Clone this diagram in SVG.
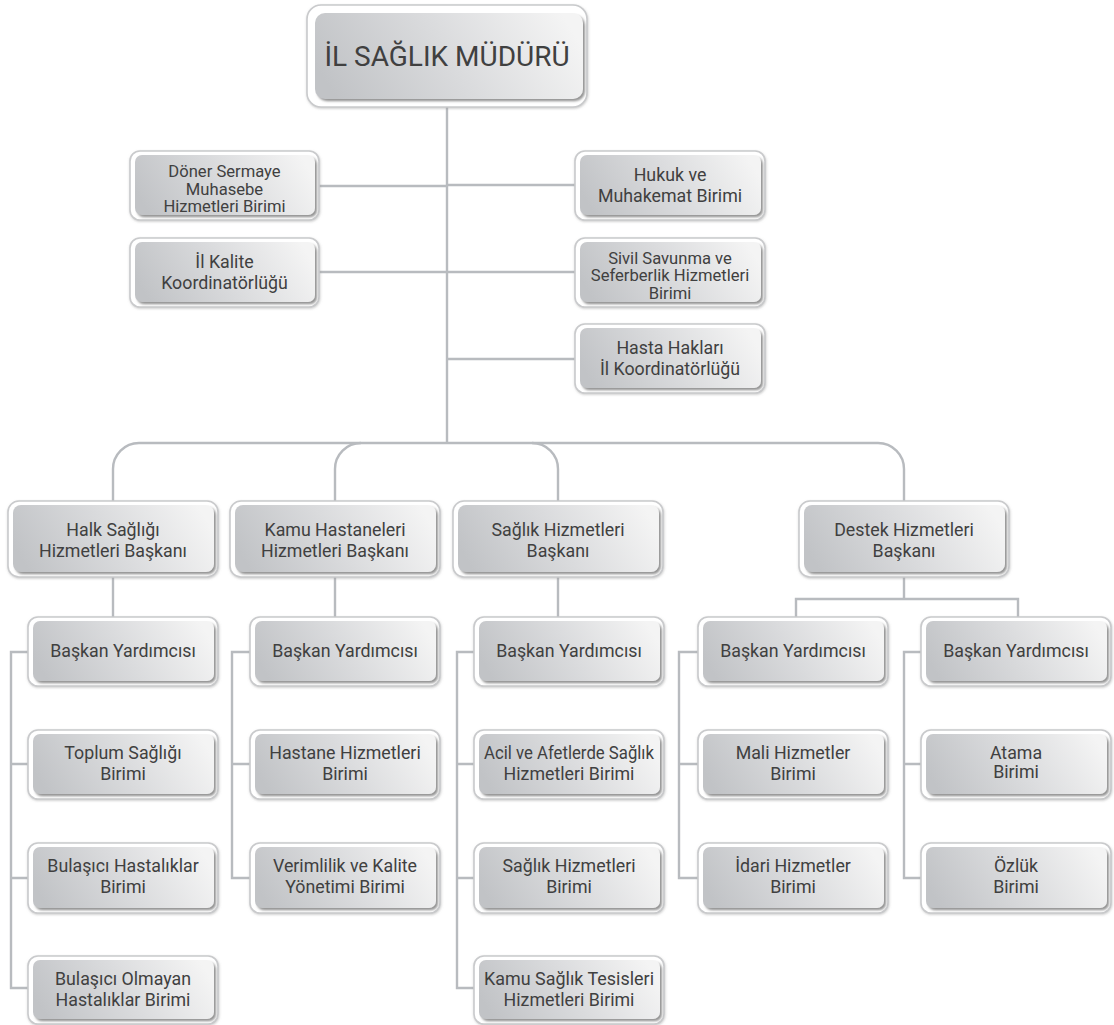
<svg xmlns="http://www.w3.org/2000/svg" width="1114" height="1025" viewBox="0 0 1114 1025">
<defs>
  <linearGradient id="g" x1="0" y1="0.6" x2="1" y2="0.4">
    <stop offset="0" stop-color="#c1c3c6"/>
    <stop offset="0.5" stop-color="#dadbdd"/>
    <stop offset="1" stop-color="#f4f4f4"/>
  </linearGradient>
  <filter id="sh" x="-5%" y="-10%" width="115%" height="130%">
    <feDropShadow dx="2" dy="2.2" stdDeviation="1.1" flood-color="#6f6f6f" flood-opacity="0.75"/>
  </filter>
  <filter id="sh2" x="-5%" y="-10%" width="115%" height="130%">
    <feDropShadow dx="0.5" dy="1" stdDeviation="1" flood-color="#9a9a9a" flood-opacity="0.5"/>
  </filter>
</defs>
<style>
  .o{fill:#ffffff;stroke:#c9cacc;stroke-width:1.6;filter:url(#sh2)}
  .i{fill:url(#g);filter:url(#sh)}
  .t{font-family:Roboto,"Liberation Sans",sans-serif;font-size:17.8px;fill:#404040;text-anchor:middle}
  .t3{font-size:16.6px}
  .tt{font-family:Roboto,"Liberation Sans",sans-serif;font-size:28px;fill:#404040;text-anchor:middle}
  .c{fill:none;stroke:#b8bbbf;stroke-width:2.4}
</style>
<rect width="1114" height="1025" fill="#ffffff"/>

<g id="connectors">
  <path class="c" d="M447,107 V443"/>
  <path class="c" d="M319,186 H447"/>
  <path class="c" d="M319,272 H447"/>
  <path class="c" d="M447,185 H575"/>
  <path class="c" d="M447,272 H575"/>
  <path class="c" d="M447,359 H575"/>
  <path class="c" d="M113,501 V469 A26,26 0 0 1 139,443 H532 A26,26 0 0 1 558,469 V501"/>
  <path class="c" d="M335,501 V469 A26,26 0 0 1 361,443"/>
  <path class="c" d="M532,443 H878 A26,26 0 0 1 904,469 V501"/>
  <path class="c" d="M113,577 V617"/>
  <path class="c" d="M335,577 V617"/>
  <path class="c" d="M558,577 V617"/>
  <path class="c" d="M904,577 V599"/>
  <path class="c" d="M796,617 V599 H1018 V617"/>
  <path class="c" d="M28,652 H11 V988 H28 M11,764 H28 M11,878 H28"/>
  <path class="c" d="M250,652 H232 V878 H250 M232,764 H250"/>
  <path class="c" d="M474,652 H457 V988 H474 M457,764 H474 M457,878 H474"/>
  <path class="c" d="M698,652 H679 V878 H698 M679,764 H698"/>
  <path class="c" d="M921,652 H904 V878 H921 M904,764 H921"/>
</g>

<g id="mudur">
  <rect class="o" x="307" y="5" width="280" height="102" rx="14"/>
  <rect class="i" x="315" y="13" width="268" height="86" rx="10"/>
  <text class="tt" x="447" y="66">İL SAĞLIK MÜDÜRÜ</text>
</g>

<g id="doner">
  <rect class="o" x="130" y="151" width="189" height="69" rx="10"/>
  <rect class="i" x="135" y="155" width="180" height="60" rx="7"/>
  <text class="t t3" x="224.5" y="177"><tspan x="224.5">Döner Sermaye</tspan><tspan x="224.5" y="194.5">Muhasebe</tspan><tspan x="224.5" y="212">Hizmetleri Birimi</tspan></text>
</g>
<g id="kalite">
  <rect class="o" x="130" y="238" width="189" height="69" rx="10"/>
  <rect class="i" x="135" y="242" width="180" height="60" rx="7"/>
  <text class="t" x="224.5" y="268"><tspan x="224.5">İl Kalite</tspan><tspan x="224.5" y="289">Koordinatörlüğü</tspan></text>
</g>
<g id="hukuk">
  <rect class="o" x="575" y="151" width="190" height="69" rx="10"/>
  <rect class="i" x="580" y="155" width="181" height="60" rx="7"/>
  <text class="t" x="670" y="181"><tspan x="670">Hukuk ve</tspan><tspan x="670" y="202">Muhakemat Birimi</tspan></text>
</g>
<g id="sivil">
  <rect class="o" x="575" y="238" width="190" height="69" rx="10"/>
  <rect class="i" x="580" y="242" width="181" height="60" rx="7"/>
  <text class="t t3" x="670" y="263.5"><tspan x="670">Sivil Savunma ve</tspan><tspan x="670" y="281">Seferberlik Hizmetleri</tspan><tspan x="670" y="298.5">Birimi</tspan></text>
</g>
<g id="hasta">
  <rect class="o" x="575" y="324" width="190" height="69" rx="10"/>
  <rect class="i" x="580" y="328" width="181" height="60" rx="7"/>
  <text class="t" x="670" y="354"><tspan x="670">Hasta Hakları</tspan><tspan x="670" y="375">İl Koordinatörlüğü</tspan></text>
</g>

<g id="halk">
  <rect class="o" x="8" y="501" width="210" height="76" rx="11"/>
  <rect class="i" x="13" y="505" width="201" height="67" rx="8"/>
  <text class="t" x="113" y="536"><tspan x="113">Halk Sağlığı</tspan><tspan x="113" y="557">Hizmetleri Başkanı</tspan></text>
</g>
<g id="kamu">
  <rect class="o" x="230" y="501" width="210" height="76" rx="11"/>
  <rect class="i" x="235" y="505" width="201" height="67" rx="8"/>
  <text class="t" x="335" y="536"><tspan x="335">Kamu Hastaneleri</tspan><tspan x="335" y="557">Hizmetleri Başkanı</tspan></text>
</g>
<g id="saglik">
  <rect class="o" x="453" y="501" width="210" height="76" rx="11"/>
  <rect class="i" x="458" y="505" width="201" height="67" rx="8"/>
  <text class="t" x="558" y="536"><tspan x="558">Sağlık Hizmetleri</tspan><tspan x="558" y="557">Başkanı</tspan></text>
</g>
<g id="destek">
  <rect class="o" x="799" y="501" width="210" height="76" rx="11"/>
  <rect class="i" x="804" y="505" width="201" height="67" rx="8"/>
  <text class="t" x="904" y="536"><tspan x="904">Destek Hizmetleri</tspan><tspan x="904" y="557">Başkanı</tspan></text>
</g>

<g id="halk-by">
  <rect class="o" x="28" y="617" width="190" height="69" rx="10"/>
  <rect class="i" x="33" y="621" width="181" height="60" rx="7"/>
  <text class="t" x="123" y="657">Başkan Yardımcısı</text>
</g>
<g id="kamu-by">
  <rect class="o" x="250" y="617" width="190" height="69" rx="10"/>
  <rect class="i" x="255" y="621" width="181" height="60" rx="7"/>
  <text class="t" x="345" y="657">Başkan Yardımcısı</text>
</g>
<g id="saglik-by">
  <rect class="o" x="474" y="617" width="190" height="69" rx="10"/>
  <rect class="i" x="479" y="621" width="181" height="60" rx="7"/>
  <text class="t" x="569" y="657">Başkan Yardımcısı</text>
</g>
<g id="destek-by1">
  <rect class="o" x="698" y="617" width="190" height="69" rx="10"/>
  <rect class="i" x="703" y="621" width="181" height="60" rx="7"/>
  <text class="t" x="793" y="657">Başkan Yardımcısı</text>
</g>
<g id="destek-by2">
  <rect class="o" x="921" y="617" width="190" height="69" rx="10"/>
  <rect class="i" x="926" y="621" width="181" height="60" rx="7"/>
  <text class="t" x="1016" y="657">Başkan Yardımcısı</text>
</g>

<g id="toplum">
  <rect class="o" x="28" y="730" width="190" height="69" rx="10"/>
  <rect class="i" x="33" y="734" width="181" height="60" rx="7"/>
  <text class="t" x="123" y="759"><tspan x="123">Toplum Sağlığı</tspan><tspan x="123" y="780">Birimi</tspan></text>
</g>
<g id="bulasici">
  <rect class="o" x="28" y="843" width="190" height="70" rx="10"/>
  <rect class="i" x="33" y="847" width="181" height="61" rx="7"/>
  <text class="t" x="123" y="872"><tspan x="123">Bulaşıcı Hastalıklar</tspan><tspan x="123" y="893">Birimi</tspan></text>
</g>
<g id="bulasici-olmayan">
  <rect class="o" x="28" y="956" width="190" height="68" rx="10"/>
  <rect class="i" x="33" y="960" width="181" height="59" rx="7"/>
  <text class="t" x="123" y="985"><tspan x="123">Bulaşıcı Olmayan</tspan><tspan x="123" y="1006">Hastalıklar Birimi</tspan></text>
</g>

<g id="hastane">
  <rect class="o" x="250" y="730" width="190" height="69" rx="10"/>
  <rect class="i" x="255" y="734" width="181" height="60" rx="7"/>
  <text class="t" x="345" y="759"><tspan x="345">Hastane Hizmetleri</tspan><tspan x="345" y="780">Birimi</tspan></text>
</g>
<g id="verimlilik">
  <rect class="o" x="250" y="843" width="190" height="70" rx="10"/>
  <rect class="i" x="255" y="847" width="181" height="61" rx="7"/>
  <text class="t" x="345" y="872"><tspan x="345">Verimlilik ve Kalite</tspan><tspan x="345" y="893">Yönetimi Birimi</tspan></text>
</g>

<g id="acil">
  <rect class="o" x="474" y="730" width="190" height="69" rx="10"/>
  <rect class="i" x="479" y="734" width="181" height="60" rx="7"/>
  <text class="t" x="569" y="759"><tspan x="569" textLength="170" lengthAdjust="spacingAndGlyphs">Acil ve Afetlerde Sağlık</tspan><tspan x="569" y="780">Hizmetleri Birimi</tspan></text>
</g>
<g id="saglik-birimi">
  <rect class="o" x="474" y="843" width="190" height="70" rx="10"/>
  <rect class="i" x="479" y="847" width="181" height="61" rx="7"/>
  <text class="t" x="569" y="872"><tspan x="569">Sağlık Hizmetleri</tspan><tspan x="569" y="893">Birimi</tspan></text>
</g>
<g id="kamu-tesis">
  <rect class="o" x="474" y="956" width="190" height="68" rx="10"/>
  <rect class="i" x="479" y="960" width="181" height="59" rx="7"/>
  <text class="t" x="569" y="985"><tspan x="569" textLength="170" lengthAdjust="spacingAndGlyphs">Kamu Sağlık Tesisleri</tspan><tspan x="569" y="1006">Hizmetleri Birimi</tspan></text>
</g>

<g id="mali">
  <rect class="o" x="698" y="730" width="190" height="69" rx="10"/>
  <rect class="i" x="703" y="734" width="181" height="60" rx="7"/>
  <text class="t" x="793" y="759"><tspan x="793">Mali Hizmetler</tspan><tspan x="793" y="780">Birimi</tspan></text>
</g>
<g id="idari">
  <rect class="o" x="698" y="843" width="190" height="70" rx="10"/>
  <rect class="i" x="703" y="847" width="181" height="61" rx="7"/>
  <text class="t" x="793" y="872"><tspan x="793">İdari Hizmetler</tspan><tspan x="793" y="893">Birimi</tspan></text>
</g>

<g id="atama">
  <rect class="o" x="921" y="730" width="190" height="69" rx="10"/>
  <rect class="i" x="926" y="734" width="181" height="60" rx="7"/>
  <text class="t" x="1016" y="759"><tspan x="1016">Atama</tspan><tspan x="1016" y="778">Birimi</tspan></text>
</g>
<g id="ozluk">
  <rect class="o" x="921" y="843" width="190" height="70" rx="10"/>
  <rect class="i" x="926" y="847" width="181" height="61" rx="7"/>
  <text class="t" x="1016" y="872"><tspan x="1016">Özlük</tspan><tspan x="1016" y="893">Birimi</tspan></text>
</g>
</svg>
